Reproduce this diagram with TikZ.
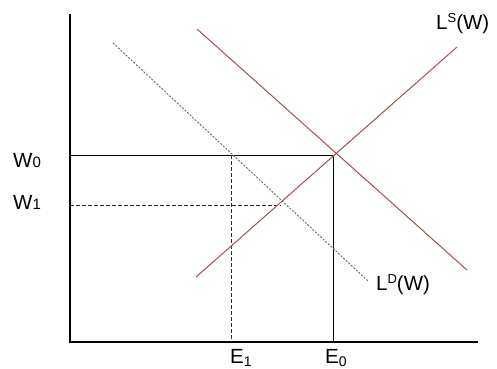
\documentclass[tikz,border=0pt]{standalone}
\usepackage{fontspec}
\setmainfont{Liberation Sans}
\newcommand{\smalldigit}[1]{{\fontsize{15}{15}\selectfont #1}}
\newcommand{\lowdigit}[1]{\raisebox{-3pt}{\fontsize{14}{14}\selectfont #1}}
\newcommand{\supletter}[1]{\raisebox{6.5pt}{\fontsize{13}{13}\selectfont #1}}
\begin{document}
\begin{tikzpicture}[x=1pt,y=-1pt,
  axis/.style={line width=2.8pt,black},
  curve/.style={line width=1pt,color={rgb,255:red,160;green,80;blue,80}},
  shifted/.style={line width=0.9pt,gray!80!black,dash pattern=on 2pt off 1.5pt},
  guide/.style={line width=0.85pt,black},
  guidedash/.style={line width=0.9pt,black!80,dash pattern=on 3.5pt off 2.5pt},
  lbl/.style={font=\fontsize{20.5}{22}\selectfont,inner sep=0pt,anchor=base west}]
\useasboundingbox (0,0) rectangle (497,368);
% axes
\coordinate (O) at (70,342);
\coordinate (ytop) at (70,14);
\coordinate (xend) at (478,342);
\draw[axis] (ytop) -- (O) -- (xend);
% curves
\coordinate (s1) at (196,277);
\coordinate (s2) at (457,47);
\coordinate (d1) at (197,29);
\coordinate (d2) at (467,270);
\coordinate (e1) at (113,43);
\coordinate (e2) at (368,281);
\coordinate (A) at (333,155);
\coordinate (B) at (231,155);
\coordinate (C) at (281,205);
\coordinate (W0) at (70,155);
\coordinate (W1) at (70,205);
\coordinate (E0) at (333,342);
\coordinate (E1) at (231,342);
\draw[guide] (W0) -- (A) -- (E0);
\draw[guidedash] (W1) -- (C);
\draw[guidedash] (B) -- (E1);
\draw[curve] (s1) -- (s2);
\draw[curve] (d1) -- (d2);
\draw[shifted] (e1) -- (e2);
% labels
\node[lbl] (lw0) at (13,167) {W\smalldigit{0}};
\node[lbl] (lw1) at (13,209) {W\smalldigit{1}};
\node[lbl] (le1) at (230,363) {E\lowdigit{1}};
\node[lbl] (le0) at (325,363) {E\lowdigit{0}};
\node[lbl] (ls) at (436,29) {L\supletter{S}(W)};
\node[lbl] (ld) at (376,290) {L\supletter{D}(W)};
\end{tikzpicture}
\end{document}
